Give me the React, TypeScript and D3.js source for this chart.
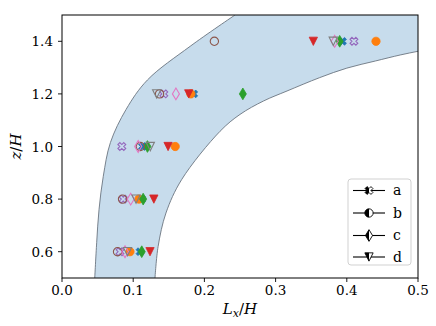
import React from "react";
import * as d3 from "d3";

const zLevels = [0.6, 0.8, 1.0, 1.2, 1.4];

// filled series (a, b, c, d)
const blueX = [0.1095, 0.112, 0.113, 0.185, 0.394];
const orangeO = [0.0955, 0.108, 0.159, 0.181, 0.441];
const greenD = [0.112, 0.114, 0.12, 0.254, 0.39];
const redV = [0.1236, 0.129, 0.149, 0.178, 0.353];
// hollow series (a, b, c, d)
const purpleX = [0.0815, 0.086, 0.084, 0.143, 0.41];
const brownO = [0.078, 0.085, 0.11, 0.137, 0.214];
const pinkD = [0.0885, 0.0965, 0.107, 0.16, 0.383];
const grayV = [0.092, 0.104, 0.124, 0.133, 0.381];

// shaded band edges
const leftZ = [0.5, 0.634, 0.76, 0.887, 1.015, 1.141, 1.253, 1.381, 1.5];
const leftX = [0.046, 0.0487, 0.052, 0.058, 0.068, 0.09, 0.12, 0.18, 0.243];
const rightZ = [0.5, 0.62, 0.747, 0.874, 1.058, 1.122, 1.173, 1.211, 1.262, 1.298, 1.325, 1.348, 1.362, 1.372];
const rightX = [0.1306, 0.135, 0.146, 0.168, 0.222, 0.25, 0.283, 0.316, 0.362, 0.4, 0.44, 0.475, 0.5, 0.52];

const xTicks = [0.0, 0.1, 0.2, 0.3, 0.4, 0.5];
const yTicks = [0.6, 0.8, 1.0, 1.2, 1.4];
const legendLabels = ["a", "b", "c", "d"];

const W = 436, H = 326;
const m = { left: 62, right: 418, top: 15, bottom: 278 };
const font = "'DejaVu Serif'";

const x = d3.scaleLinear().domain([0, 0.5]).range([m.left, m.right]);
const y = d3.scaleLinear().domain([0.5, 1.5]).range([m.bottom, m.top]);

const S = 8.3;

const markerPath = (kind: string, s: number) => {
  if (kind === "o") {
    const r = s / 2;
    return `M${-r},0A${r},${r} 0 1,0 ${r},0A${r},${r} 0 1,0 ${-r},0Z`;
  }
  if (kind === "v") {
    const h = s / 2;
    return `M0,${h}L${-h},${-h}L${h},${-h}Z`;
  }
  if (kind === "d") {
    const hw = 0.424 * s, hh = 0.707 * s;
    return `M0,${-hh}L${hw},0L0,${hh}L${-hw},0Z`;
  }
  // filled X: plus rotated by 45 degrees
  const plus = [[-1, -3], [1, -3], [1, -1], [3, -1], [3, 1], [1, 1], [1, 3], [-1, 3], [-1, 1], [-3, 1], [-3, -1], [-1, -1]];
  const c = Math.SQRT1_2;
  const pts = plus.map(([px, py]) => {
    const a = (px / 6) * s, b = (py / 6) * s;
    return [(a - b) * c, (a + b) * c];
  });
  return "M" + pts.map(p => p.join(",")).join("L") + "Z";
};

const series = [
  { vals: blueX, kind: "X", color: "#1f77b4", filled: true },
  { vals: orangeO, kind: "o", color: "#ff7f0e", filled: true },
  { vals: greenD, kind: "d", color: "#2ca02c", filled: true },
  { vals: redV, kind: "v", color: "#d62728", filled: true },
  { vals: purpleX, kind: "X", color: "#9467bd", filled: false },
  { vals: brownO, kind: "o", color: "#8c564b", filled: false },
  { vals: pinkD, kind: "d", color: "#e377c2", filled: false },
  { vals: grayV, kind: "v", color: "#7f7f7f", filled: false },
];
const legendKinds = ["X", "o", "d", "v"];

const App = () => {
  const line = d3.line<[number, number]>().curve(d3.curveCatmullRom.alpha(0.5));
  const leftPts: [number, number][] = leftZ.map((z, i) => [x(leftX[i]), y(z)]);
  const rightPts: [number, number][] = rightZ.map((z, i) => [x(rightX[i]), y(z)]);
  const leftD = line(leftPts) as string;
  const rightD = line(rightPts) as string;
  const rightRev = (line([...rightPts].reverse()) as string).replace(/^M/, "L");
  const bandD = leftD + `L${x(0.56)},${y(1.5)}L${x(0.56)},${y(1.372)}` + rightRev + "Z";

  const rowY = [190.5, 213, 235.5, 257];
  const lx0 = 353, lx1 = 385, lmx = 369;

  return (
    <svg width={W} height={H} style={{ position: "absolute", left: 0, top: 0, background: "#fff" }}>
      <defs>
        <clipPath id="plotclip">
          <rect x={m.left} y={m.top} width={m.right - m.left} height={m.bottom - m.top} />
        </clipPath>
        <clipPath id="lefthalf">
          <rect x={-10} y={-10} width={10} height={20} />
        </clipPath>
        <clipPath id="righthalf">
          <rect x={0} y={-10} width={10} height={20} />
        </clipPath>
      </defs>

      <g clipPath="url(#plotclip)">
        <path d={bandD} fill="#c7dcec" stroke="none" />
        <path d={leftD} fill="none" stroke="#6b7580" strokeWidth={0.9} />
        <path d={rightD} fill="none" stroke="#6b7580" strokeWidth={0.9} />
        {series.map((s, si) =>
          s.vals.map((v, i) => (
            <path key={`m${si}-${i}`} d={markerPath(s.kind, S)}
              transform={`translate(${x(v)},${y(zLevels[i])})`}
              fill={s.filled ? s.color : "none"} stroke={s.color}
              strokeWidth={s.filled ? 0.8 : 1.1} strokeLinejoin="miter" />
          ))
        )}
      </g>

      {/* spines */}
      <rect x={m.left} y={m.top} width={m.right - m.left} height={m.bottom - m.top}
        fill="none" stroke="#000" strokeWidth={1} />

      <g style={{ fontFamily: font }}>
        {/* x ticks */}
        {xTicks.map(t => (
          <g key={`xt${t}`}>
            <line x1={x(t)} x2={x(t)} y1={m.bottom} y2={m.bottom + 4} stroke="#000" strokeWidth={0.9} />
            <text x={x(t)} y={295} textAnchor="middle" fontSize={13.5}>{t.toFixed(1)}</text>
          </g>
        ))}
        {/* y ticks */}
        {yTicks.map(t => (
          <g key={`yt${t}`}>
            <line x1={m.left - 4} x2={m.left} y1={y(t)} y2={y(t)} stroke="#000" strokeWidth={0.9} />
            <text x={53} y={y(t) + 5} textAnchor="end" fontSize={13.5}>{t.toFixed(1)}</text>
          </g>
        ))}

        {/* axis labels */}
        <text x={(m.left + m.right) / 2} y={314} textAnchor="middle" fontSize={15}>
          <tspan fontStyle="italic">L</tspan>
          <tspan fontStyle="italic" fontSize={11} dy={3}>x</tspan>
          <tspan dy={-3}>/</tspan>
          <tspan fontStyle="italic">H</tspan>
        </text>
        <text transform={`translate(21,${(m.top + m.bottom) / 2}) rotate(-90)`} textAnchor="middle" fontSize={15}>
          <tspan fontStyle="italic">z</tspan>
          <tspan>/</tspan>
          <tspan fontStyle="italic">H</tspan>
        </text>

        {/* legend */}
        <rect x={348} y={179} width={63} height={86} rx={3} fill="#fff" fillOpacity={0.8}
          stroke="#cccccc" strokeWidth={0.9} />
        {legendLabels.map((lab, i) => (
          <g key={`lg${lab}`}>
            <line x1={lx0} x2={lx1} y1={rowY[i]} y2={rowY[i]} stroke="#000" strokeWidth={1.1} />
            <g transform={`translate(${lmx},${rowY[i]})`}>
              <path d={markerPath(legendKinds[i], S)} fill="#fff" clipPath="url(#righthalf)" />
              <path d={markerPath(legendKinds[i], S)} fill="#000" clipPath="url(#lefthalf)" />
              <path d={markerPath(legendKinds[i], S)} fill="none" stroke="#000" strokeWidth={0.9} />
            </g>
            <text x={393} y={rowY[i] + 4.5} fontSize={14}>{lab}</text>
          </g>
        ))}
      </g>
    </svg>
  );
};

export default App;
